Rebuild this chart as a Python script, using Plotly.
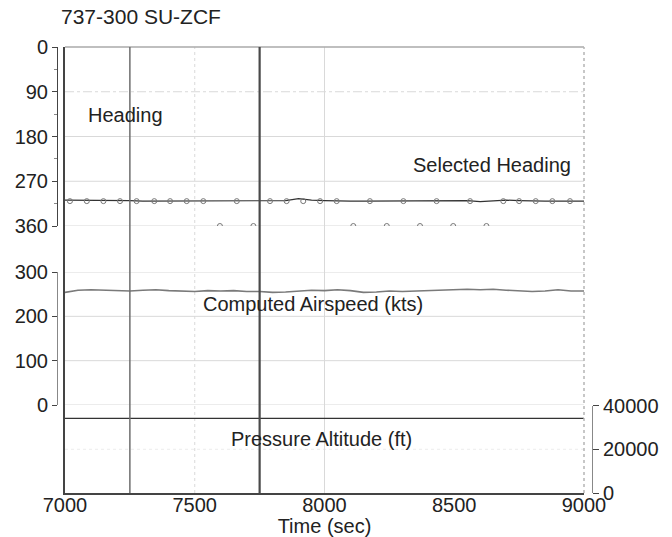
import plotly.graph_objects as go

# ---------------- data ----------------
time_s = [7000, 7050, 7100, 7150, 7200, 7250, 7300, 7350, 7400, 7450, 7500,
          7550, 7600, 7650, 7700, 7750, 7800, 7850, 7900, 7950, 8000,
          8050, 8100, 8150, 8200, 8250, 8300, 8350, 8400, 8450, 8500,
          8550, 8600, 8650, 8700, 8750, 8800, 8850, 8900, 8950, 9000]

heading_deg = [308, 308, 308, 308, 308, 309, 310, 310, 310, 310, 310,
               310, 310, 310, 310, 310, 310, 309, 305, 308, 309,
               310, 310, 310, 310, 310, 310, 310, 310, 310, 310,
               309, 311, 310, 308, 309, 310, 310, 310, 310, 310]

airspeed_kts = [254, 259, 260, 259, 257, 257, 259, 260, 258, 257, 256,
                258, 257, 258, 256, 256, 254, 255, 257, 259, 258,
                260, 258, 254, 255, 257, 256, 257, 258, 258, 259,
                261, 260, 261, 259, 257, 256, 257, 260, 257, 257]

altitude_ft = [34100] * len(time_s)

sel_time_s = [7019, 7084, 7148, 7212, 7276, 7344, 7405, 7469, 7533, 7597,
              7662, 7726, 7790, 7854, 7918, 7983, 8047, 8111, 8175, 8240,
              8304, 8368, 8432, 8496, 8561, 8624, 8689, 8750, 8814, 8878, 8946]
sel_heading_deg = [310, 310, 310, 310, 310, 310, 310, 310, 310, 360,
                   310, 360, 310, 310, 310, 310, 310, 360, 310, 360,
                   310, 360, 310, 360, 310, 360, 310, 310, 310, 310, 310]

x_ticks = [7000, 7500, 8000, 8500, 9000]
heading_ticks = [0, 90, 180, 270, 360]
airspeed_ticks = [0, 100, 200, 300]
altitude_ticks = [0, 20000, 40000]
event_times = [7250, 7750]

# ---------------- layout geometry ----------------
W, H = 672, 537
ML, MR, MT, MB = 40, 60, 47, 44
PW = W - ML - MR
PH = H - MT - MB


def px2paper_x(px):
    return (px - ML) / PW


def px2paper_y(py):
    return (H - MB - py) / PH


x_dom = [px2paper_x(65), px2paper_x(584)]
pos_left = px2paper_x(57)
pos_right_hdg = px2paper_x(589)
pos_right_alt = px2paper_x(592)

FONT = "Liberation Sans, Arial, sans-serif"
TXT = "#222222"
AX = "#444444"
GRID = "#d9d9d9"

fig = go.Figure()

fig.add_trace(go.Scatter(x=[], y=[], xaxis="x", yaxis="y", showlegend=False,
                         hoverinfo="skip"))
fig.add_trace(go.Scatter(x=time_s, y=heading_deg, xaxis="x", yaxis="y2",
                         mode="lines", line=dict(color="#333333", width=1.2),
                         name="Heading", showlegend=False))
fig.add_trace(go.Scatter(x=sel_time_s, y=sel_heading_deg, xaxis="x", yaxis="y2",
                         mode="markers",
                         marker=dict(symbol="circle-open", size=5, color="#777777",
                                     line=dict(color="#777777", width=1)),
                         name="Selected Heading", showlegend=False))
fig.add_trace(go.Scatter(x=time_s, y=airspeed_kts, xaxis="x", yaxis="y4",
                         mode="lines", line=dict(color="#7a7a7a", width=1.6),
                         name="Computed Airspeed (kts)", showlegend=False))
fig.add_trace(go.Scatter(x=time_s, y=altitude_ft, xaxis="x", yaxis="y5",
                         mode="lines", line=dict(color="#333333", width=1.4),
                         name="Pressure Altitude (ft)", showlegend=False))

tickfont = dict(family=FONT, size=20, color=TXT)

hdg_dom = [px2paper_y(226), 1.0]
spd_dom = [px2paper_y(405), px2paper_y(272)]
alt_dom = [0.0, px2paper_y(405.5)]

fig.update_layout(
    width=W, height=H,
    margin=dict(l=ML, r=MR, t=MT, b=MB, autoexpand=False),
    paper_bgcolor="white", plot_bgcolor="rgba(0,0,0,0)",
    showlegend=False,
    title=dict(text="737-300 SU-ZCF", xref="container", yref="container",
               x=61 / W, xanchor="left", y=1 - 17 / H, yanchor="middle",
               font=dict(family=FONT, size=21, color=TXT)),
    xaxis=dict(domain=x_dom, range=[7000, 9000], anchor="y", automargin=False,
               tickvals=x_ticks, ticks="", ticklabelstandoff=-7,
               showgrid=False, zeroline=False,
               showline=True, linecolor=AX, linewidth=1.5,
               tickfont=tickfont,
               title=dict(text="Time (sec)", standoff=1,
                          font=dict(family=FONT, size=20, color=TXT))),
    yaxis=dict(domain=[0, 1], range=[0, 1], showticklabels=False, automargin=False,
               ticks="", showgrid=False, zeroline=False,
               showline=True, linecolor=AX, linewidth=1.5),
    yaxis2=dict(domain=hdg_dom, range=[360, 0], anchor="free", automargin=False,
                position=pos_left, side="left",
                tickvals=heading_ticks, ticks="outside", ticklen=5,
                tickcolor=AX, showgrid=False, zeroline=False,
                showline=True, linecolor=AX, linewidth=1,
                tickfont=tickfont,
                minor=dict(dtick=45, tick0=0, ticks="outside", ticklen=3,
                           tickcolor="#888888", showgrid=False)),
    yaxis3=dict(overlaying="y2", range=[360, 0], anchor="free", automargin=False,
                position=pos_right_hdg, side="right",
                tickvals=heading_ticks, ticks="outside", ticklen=6,
                tickcolor=AX, showgrid=False, zeroline=False,
                showline=True, linecolor=AX, linewidth=1,
                tickfont=tickfont,
                minor=dict(dtick=45, tick0=0, ticks="outside", ticklen=3,
                           tickcolor="#888888", showgrid=False)),
    yaxis4=dict(domain=spd_dom, range=[0, 300], anchor="free", automargin=False,
                position=pos_left, side="left",
                tickvals=airspeed_ticks, ticks="outside", ticklen=5,
                tickcolor=AX, showgrid=False, zeroline=False,
                showline=True, linecolor="#888888", linewidth=1,
                tickfont=tickfont),
    yaxis5=dict(domain=alt_dom, range=[0, 40000], anchor="free", automargin=False,
                position=pos_right_alt, side="right",
                tickvals=altitude_ticks, tickformat="d",
                ticks="outside", ticklen=6,
                tickcolor=AX, showgrid=False, zeroline=False,
                showline=True, linecolor="#888888", linewidth=1,
                tickfont=tickfont),
)

shapes = []
# horizontal gridlines from the tick lists
for v in heading_ticks[1:]:
    shapes.append(dict(type="line", xref="x domain", yref="y2",
                       x0=0, x1=1, y0=v, y1=v, layer="below",
                       line=dict(color=GRID, width=1,
                                 dash="dashdot" if v == 90 else "solid")))
for v in airspeed_ticks:
    shapes.append(dict(type="line", xref="x domain", yref="y4",
                       x0=0, x1=1, y0=v, y1=v, layer="below",
                       line=dict(color=GRID, width=1)))
for v in altitude_ticks[1:2]:
    shapes.append(dict(type="line", xref="x domain", yref="y5",
                       x0=0, x1=1, y0=v, y1=v, layer="below",
                       line=dict(color="#ececec", width=1, dash="dot")))
# vertical gridlines
for v in x_ticks[1:3]:
    shapes.append(dict(type="line", xref="x", yref="paper",
                       x0=v, x1=v, y0=0, y1=1, layer="below",
                       line=dict(color=GRID, width=1,
                                 dash="dot" if v == 7500 else "solid")))
# frame top / right
shapes.append(dict(type="line", xref="x domain", yref="paper", x0=0, x1=1,
                   y0=1, y1=1, line=dict(color="#aaaaaa", width=1.5)))
shapes.append(dict(type="line", xref="x domain", yref="paper", x0=1, x1=1,
                   y0=0, y1=1, line=dict(color="#b5b5b5", width=1.5, dash="dot")))
# event lines
for i, t in enumerate(event_times):
    shapes.append(dict(type="line", xref="x", yref="paper", x0=t, x1=t,
                       y0=0, y1=1,
                       line=dict(color="#6e6e6e" if i == 0 else "#4a4a4a",
                                 width=1.5 if i == 0 else 2.2)))
fig.update_layout(shapes=shapes)

annfont = dict(family=FONT, size=20, color=TXT)
fig.add_annotation(text="Heading", xref="x", yref="y2", x=7081, y=136,
                   xanchor="left", yanchor="middle", showarrow=False, font=annfont)
fig.add_annotation(text="Selected Heading", xref="x", yref="y2", x=8958, y=238,
                   xanchor="right", yanchor="middle", showarrow=False, font=annfont)
fig.add_annotation(text="Computed Airspeed (kts)", xref="x", yref="y4",
                   x=7955, y=228, xanchor="center", yanchor="middle",
                   showarrow=False, font=annfont)
fig.add_annotation(text="Pressure Altitude (ft)", xref="x", yref="y5",
                   x=7987, y=24500, xanchor="center", yanchor="middle",
                   showarrow=False, font=annfont)

fig.write_html(
    "out.html",
    config={"displayModeBar": False},
    post_script="document.body.style.margin='0px';"
                "document.body.style.overflow='hidden';",
)
